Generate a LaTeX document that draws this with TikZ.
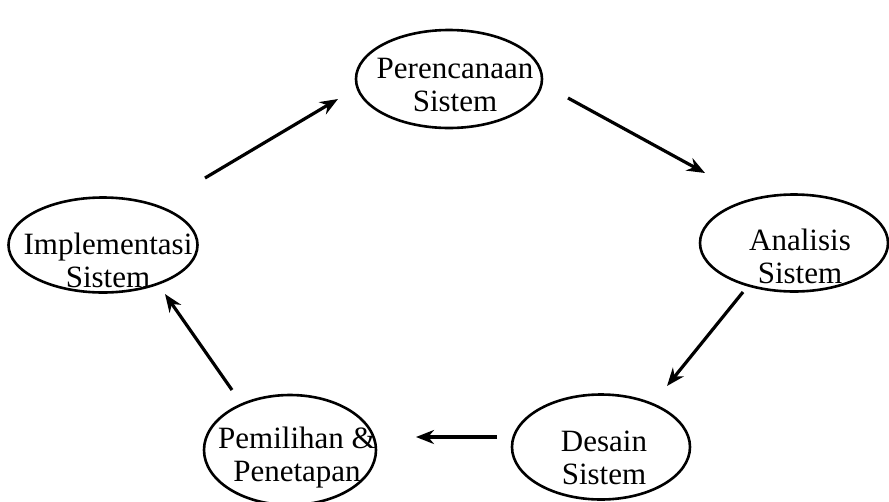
\documentclass[tikz,border=0pt]{standalone}
\usepackage{fontspec}
\setmainfont{Liberation Serif}
\usetikzlibrary{shapes.geometric,arrows.meta}
\tikzset{
  stage/.style={draw, ellipse, line width=2.6pt, inner sep=0pt},
  lbl/.style={align=center, font=\fontsize{31}{33}\selectfont, inner sep=0pt},
  flow/.style={line width=3.2pt, -{Stealth[length=18pt,width=14pt]}}
}
\begin{document}
\begin{tikzpicture}[x=1pt,y=-1pt]
\useasboundingbox (0,0) rectangle (889,501);
% ellipses
\node[stage, minimum width=186pt, minimum height=98pt] (per) at (449,79) {};
\node[stage, minimum width=188pt, minimum height=97pt] (ana) at (794,243) {};
\node[stage, minimum width=189pt, minimum height=95pt] (imp) at (103,245) {};
\node[stage, minimum width=178pt, minimum height=105pt] (des) at (601,447) {};
\node[stage, minimum width=172pt, minimum height=110pt] (pem) at (290,450) {};
% labels
\node[lbl] (tper) at (455,85) {Perencanaan\\Sistem};
\node[lbl] (tana) at (800,256) {Analisis\\Sistem};
\node[lbl] (timp) at (108,260) {Implementasi\\Sistem};
\node[lbl] (tdes) at (604,458) {Desain\\Sistem};
\node[lbl] (tpem) at (297,458) {Pemilihan \&\\Penetapan};
% arrow end points
\coordinate (a1s) at (205,178); \coordinate (a1e) at (338,99);
\coordinate (a2s) at (568,98);  \coordinate (a2e) at (705,173);
\coordinate (a3s) at (743,292); \coordinate (a3e) at (667,386);
\coordinate (a4s) at (497,437); \coordinate (a4e) at (416,437);
\coordinate (a5s) at (232,390); \coordinate (a5e) at (165,294);
\draw[flow] (a1s) -- (a1e);
\draw[flow] (a2s) -- (a2e);
\draw[flow] (a3s) -- (a3e);
\draw[flow] (a4s) -- (a4e);
\draw[flow] (a5s) -- (a5e);
\end{tikzpicture}
\end{document}
